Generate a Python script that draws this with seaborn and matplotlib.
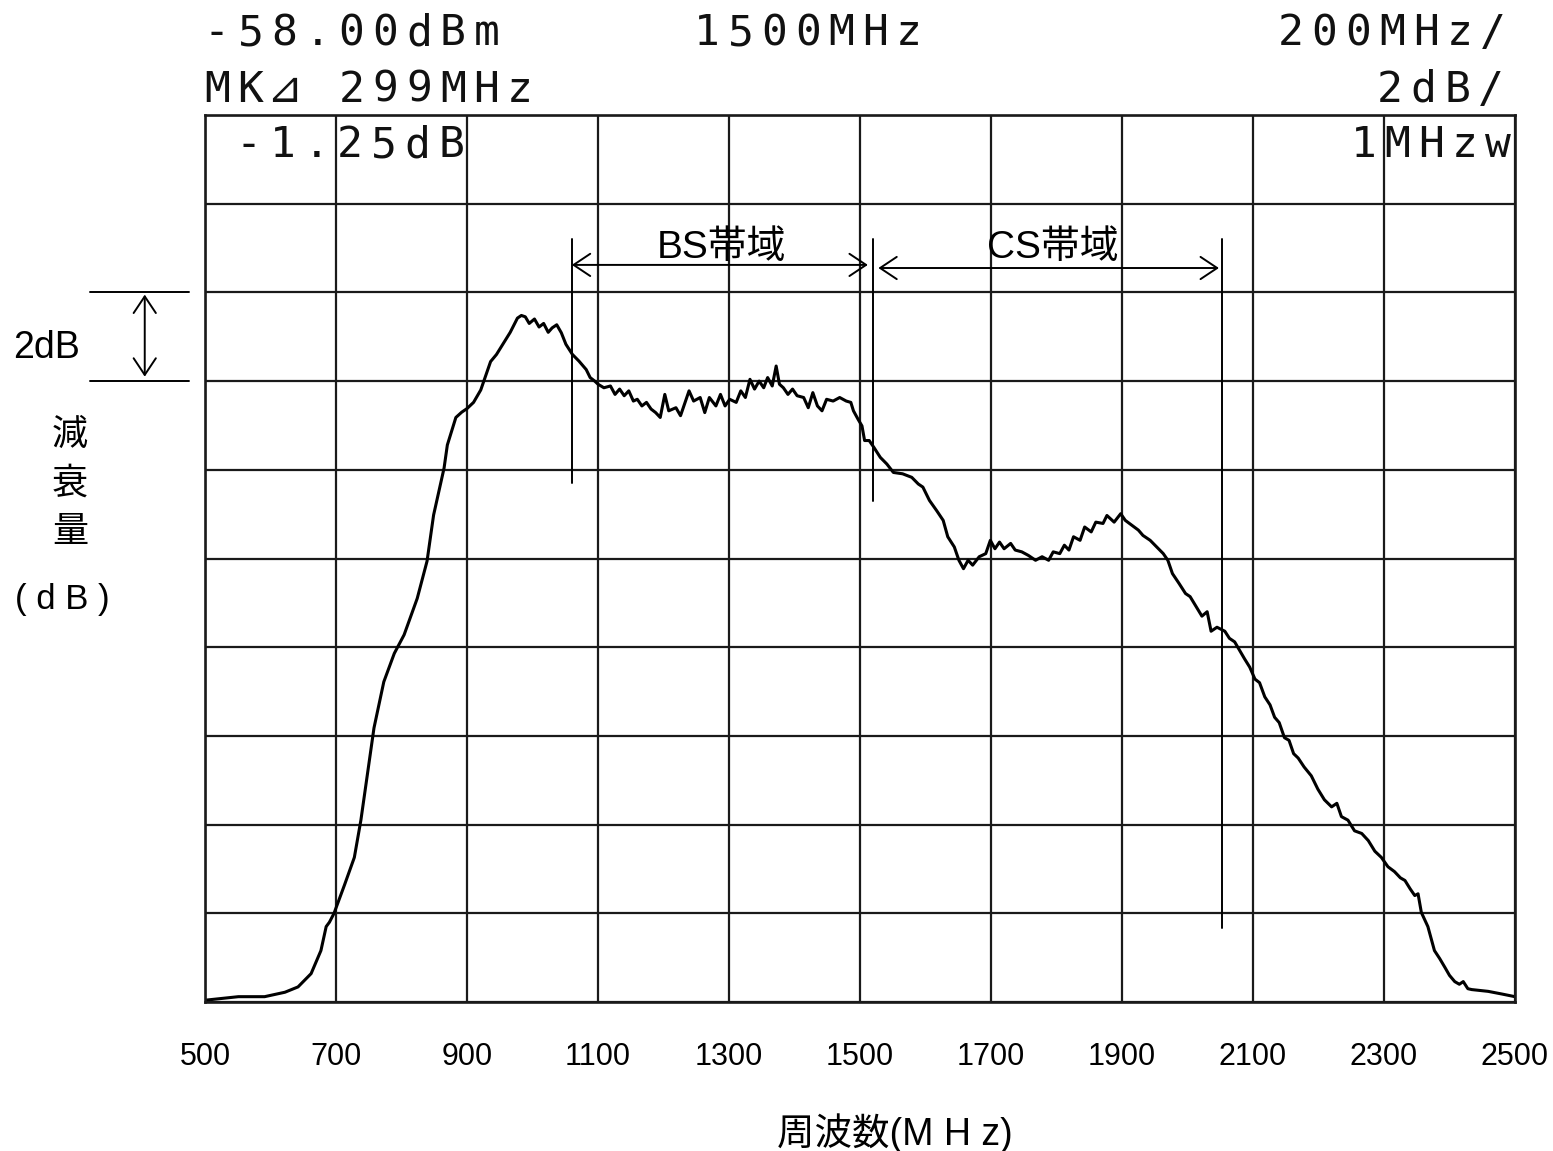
import matplotlib
matplotlib.use("Agg")
import matplotlib.pyplot as plt
import matplotlib.transforms as mtransforms
import seaborn as sns
import pandas as pd

# trace (MHz, relative level in dB, 2 dB/div)
freq_mhz = [500, 551, 591, 622, 642, 662, 677, 685, 690, 697, 713, 728, 738, 748, 758,
            773, 789, 804, 824, 839, 849, 865, 870, 883, 892, 900, 910, 921, 928, 936,
            945, 956, 966, 977, 983, 989, 995, 1003, 1010, 1017, 1024, 1030,
            1037, 1044, 1051, 1061, 1071, 1082, 1088, 1095, 1100, 1109, 1119, 1126, 1133,
            1140, 1147, 1154, 1160, 1167, 1174, 1181, 1188, 1195, 1202, 1208, 1219, 1226,
            1232, 1239, 1246, 1256, 1263, 1270, 1280, 1287, 1294, 1301, 1311, 1318, 1325,
            1332, 1339, 1346, 1353, 1359, 1366, 1372, 1377, 1383, 1390, 1397, 1404, 1414,
            1421, 1428, 1435, 1442, 1449, 1459, 1469, 1479, 1486, 1490, 1497, 1503, 1507,
            1514, 1521, 1531, 1541, 1551, 1565, 1579, 1589, 1596, 1606, 1617, 1627, 1634,
            1644, 1651, 1658, 1665, 1672, 1682, 1692, 1699, 1706, 1713, 1720, 1730, 1737,
            1747, 1757, 1768, 1778, 1788, 1795, 1805, 1812, 1819, 1826, 1836, 1843, 1853,
            1860, 1871, 1877, 1888, 1898, 1905, 1915, 1925, 1932, 1943, 1953, 1963, 1970,
            1977, 1987, 1997, 2004, 2022, 2030, 2036, 2045, 2057, 2064, 2072, 2087, 2095,
            2103, 2110, 2118, 2126, 2133, 2140, 2148, 2155, 2162, 2169, 2178, 2189, 2199,
            2209, 2220, 2228, 2235, 2245, 2255, 2266, 2276, 2286, 2296, 2306, 2316, 2325,
            2332, 2340, 2347, 2352, 2357, 2367, 2377, 2385, 2393, 2400, 2408, 2415, 2421,
            2428, 2434, 2446, 2459, 2480, 2500]
level_db = [0.04, 0.12, 0.12, 0.22, 0.34, 0.64, 1.16, 1.70, 1.80, 2.00, 2.64, 3.26, 4.10,
            5.14, 6.18, 7.22, 7.86, 8.28, 9.10, 9.94, 10.98, 12.04, 12.56, 13.18, 13.30,
            13.38, 13.52, 13.80, 14.10, 14.44, 14.60, 14.86, 15.10, 15.42, 15.48, 15.45,
            15.30, 15.40, 15.22, 15.30, 15.10, 15.20,
            15.27, 15.09, 14.83, 14.60, 14.45, 14.26, 14.08, 14.00, 13.93, 13.85, 13.89,
            13.70, 13.82, 13.67, 13.78, 13.55, 13.59, 13.44, 13.52, 13.37, 13.29, 13.18,
            13.70, 13.33, 13.40, 13.22, 13.48, 13.78, 13.55, 13.63, 13.29, 13.63, 13.44,
            13.70, 13.44, 13.59, 13.52, 13.78, 13.63, 14.04, 13.82, 14.00, 13.85, 14.08,
            13.89, 14.34, 13.93, 13.85, 13.70, 13.82, 13.67, 13.63, 13.40, 13.74, 13.44,
            13.33, 13.59, 13.55, 13.63, 13.55, 13.52, 13.33, 13.14, 12.99, 12.66, 12.66,
            12.51, 12.28, 12.13, 11.94, 11.91, 11.83, 11.68, 11.61, 11.31, 11.08, 10.86,
            10.49, 10.26, 9.96, 9.77, 9.96, 9.85, 10.04, 10.11, 10.41, 10.22, 10.37, 10.22,
            10.34, 10.19, 10.15, 10.07, 9.96, 10.04, 9.96, 10.15, 10.11, 10.30, 10.19,
            10.49, 10.41, 10.71, 10.60, 10.82, 10.79, 10.97, 10.82, 11.01, 10.86, 10.75,
            10.64, 10.52, 10.41, 10.26, 10.11, 9.96, 9.66, 9.44, 9.21, 9.14, 8.70, 8.80,
            8.36, 8.45, 8.36, 8.20, 8.12, 7.74, 7.55, 7.28, 7.20, 6.88, 6.70, 6.42, 6.30,
            5.96, 5.90, 5.60, 5.50, 5.30, 5.10, 4.80, 4.56, 4.40, 4.48, 4.18, 4.10, 3.86,
            3.80, 3.64, 3.40, 3.26, 3.05, 2.94, 2.80, 2.74, 2.55, 2.40, 2.44, 2.02, 1.70,
            1.16, 0.98, 0.78, 0.60, 0.46, 0.40, 0.46, 0.30, 0.28, 0.26, 0.24, 0.18, 0.12]

x_ticks = [500, 700, 900, 1100, 1300, 1500, 1700, 1900, 2100, 2300, 2500]
bs_band = [1060, 1520]
cs_band = [1520, 2053]

W, H = 1553, 1151
sns.set_style("white")
plt.rcParams["font.family"] = ["Liberation Sans", "Noto Sans CJK JP"]
plt.rcParams["text.color"] = "black"
sans = ["Liberation Sans", "Noto Sans CJK JP"]
mono = ["DejaVu Sans Mono", "DejaVu Sans", "Noto Sans CJK JP"]

fig = plt.figure(figsize=(W / 100, H / 100), dpi=100)
ax = fig.add_axes([205 / W, 1 - 1002 / H, 1310 / W, 887 / H])

df = pd.DataFrame({"freq": freq_mhz, "level": level_db})
sns.lineplot(data=df, x="freq", y="level", ax=ax, color="black", lw=2.2, estimator=None)

ax.set_xlim(500, 2500)
ax.set_ylim(0, 20)
ax.set_xticks(x_ticks)
ax.set_xticklabels([str(t) for t in x_ticks], fontsize=22, color="black")
ax.set_yticks(range(0, 21, 2))
ax.set_yticklabels([])
ax.tick_params(length=0, pad=29)
ax.set_xlabel("")
ax.set_ylabel("")
ax.grid(True, color="#1a1a1a", lw=1.6)
for sp in ax.spines.values():
    sp.set_color("#1a1a1a")
    sp.set_linewidth(1.9)

# band markers
ax.plot([bs_band[0]] * 2, [11.7, 17.2], color="black", lw=1.4)
ax.plot([bs_band[1]] * 2, [11.3, 17.2], color="black", lw=1.4)
ax.plot([cs_band[1]] * 2, [1.67, 17.2], color="black", lw=1.4)
arrow = dict(arrowstyle="<->,head_length=0.6,head_width=0.4", lw=1.4, color="black",
             shrinkA=0, shrinkB=0, mutation_scale=20)
ax.annotate("", xy=(bs_band[0], 16.62), xytext=(bs_band[1] - 8, 16.62), arrowprops=arrow)
ax.annotate("", xy=(cs_band[0] + 8, 16.55), xytext=(cs_band[1] - 5, 16.55), arrowprops=arrow)
ax.text(1289, 16.78, "BS帯域", ha="center", va="baseline", fontsize=28, family=sans)
ax.text(1795, 16.78, "CS帯域", ha="center", va="baseline", fontsize=28, family=sans)

# 2 dB scale mark on the left
trans = mtransforms.blended_transform_factory(ax.transAxes, ax.transData)
for yv in (16, 14):
    ax.plot([-0.088, -0.012], [yv, yv], color="black", lw=1.4, transform=trans, clip_on=False)
ax.annotate("", xy=(-0.046, 15.95), xytext=(-0.046, 14.1), xycoords=trans, textcoords=trans,
            arrowprops=arrow, annotation_clip=False)
fig.text(47 / W, 1 - 348 / H, "2dB", ha="center", va="center", fontsize=27, family=sans)
for ch, yp in zip("減衰量", (435, 484, 532)):
    fig.text(70 / W, 1 - yp / H, ch, ha="center", va="center", fontsize=26, family=sans)
fig.text(62 / W, 1 - 600 / H, "( d B )", ha="center", va="center", fontsize=25, family=sans)
fig.text(895 / W, 1 - 1133 / H, "周波数(M H z)", ha="center", va="center", fontsize=27,
         family=sans)

# instrument header, fixed pitch like the plotter font
PITCH = 33.7


def plotter_text(s, x0, yc):
    for i, ch in enumerate(s):
        if ch == " ":
            continue
        fig.text((x0 + (i + 0.5) * PITCH) / W, 1 - yc / H, ch, ha="center", va="center",
                 fontsize=31, family=mono, color="#111111")


plotter_text("-58.00dBm", 200, 33)
plotter_text("1500MHz", 690, 33)
plotter_text("200MHz/", 1510 - 7 * PITCH, 33)
plotter_text("MK⊿ 299MHz", 200, 90)
plotter_text("2dB/", 1508 - 4 * PITCH, 90)
plotter_text("-1.25dB", 232, 145)
plotter_text("1MHzw", 1515 - 5 * PITCH, 145)

fig.savefig("out.png", dpi=100, facecolor="white")
